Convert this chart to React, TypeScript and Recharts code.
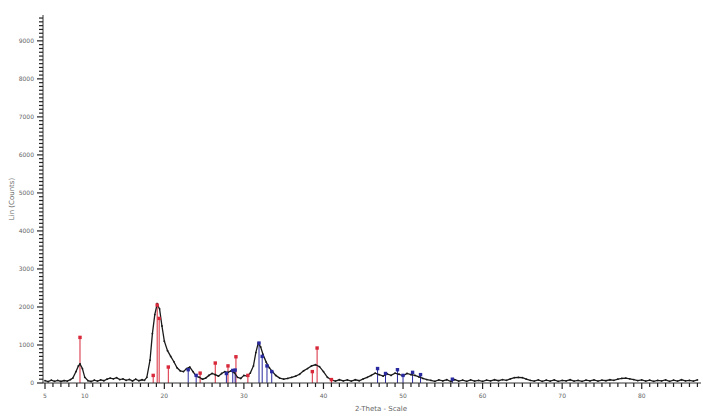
import React from 'react';
import { ComposedChart, Line, Scatter, XAxis, YAxis, ReferenceLine } from 'recharts';

// Measured pattern: [2-theta, counts]
const thetaValues = [5, 5.4, 5.8, 6.2, 6.6, 7, 7.4, 7.8, 8.2, 8.5, 8.9, 9.2, 9.4, 9.7, 10, 10.4, 10.8, 11.2, 11.6, 12, 12.4, 12.8, 13.2, 13.6, 14, 14.4, 14.8, 15.2, 15.6, 16, 16.4, 16.8, 17.2, 17.5, 17.8, 18.2, 18.5, 18.8, 19.1, 19.4, 19.7, 20, 20.4, 20.8, 21.2, 21.6, 22, 22.4, 22.8, 23.2, 23.6, 24, 24.4, 24.8, 25.2, 25.6, 26, 26.4, 26.8, 27.2, 27.6, 28, 28.4, 28.8, 29.2, 29.6, 30, 30.4, 30.8, 31.2, 31.5, 31.8, 32.1, 32.4, 32.8, 33.2, 33.6, 34, 34.5, 35, 35.5, 36, 36.5, 37, 37.5, 38, 38.5, 39, 39.5, 40, 40.5, 41, 41.5, 42, 42.5, 43, 43.5, 44, 44.5, 45, 45.5, 46, 46.5, 47, 47.5, 48, 48.5, 49, 49.5, 50, 50.5, 51, 51.5, 52, 52.5, 53, 53.5, 54, 54.5, 55, 55.5, 56, 56.5, 57, 57.5, 58, 58.5, 59, 59.5, 60, 60.5, 61, 61.5, 62, 62.5, 63, 63.5, 64, 64.5, 65, 65.5, 66, 66.5, 67, 67.5, 68, 68.5, 69, 69.5, 70, 70.5, 71, 71.5, 72, 72.5, 73, 73.5, 74, 74.5, 75, 75.5, 76, 76.5, 77, 77.5, 78, 78.5, 79, 79.5, 80, 80.5, 81, 81.5, 82, 82.5, 83, 83.5, 84, 84.5, 85, 85.5, 86, 86.5, 87];
const countValues = [60, 35, 75, 45, 70, 40, 65, 50, 90, 130, 300, 450, 500, 380, 150, 60, 40, 75, 50, 80, 60, 100, 130, 110, 140, 90, 110, 70, 95, 55, 100, 60, 85, 70, 150, 600, 1300, 1800, 2080, 1950, 1500, 1100, 850, 700, 560, 400, 320, 300, 380, 420, 300, 180, 150, 100, 130, 200, 250, 220, 180, 250, 300, 280, 320, 270, 150, 120, 200, 180, 260, 450, 800, 1050, 950, 750, 550, 400, 300, 200, 130, 100, 120, 150, 180, 230, 320, 380, 450, 480, 430, 300, 150, 80, 50, 85, 55, 80, 50, 85, 60, 110, 150, 200, 260, 220, 180, 240, 200, 260, 230, 190, 250, 220, 200, 160, 120, 90, 70, 45, 80, 55, 85, 40, 90, 50, 75, 45, 80, 50, 70, 45, 75, 55, 85, 60, 90, 70, 110, 140, 150, 140, 100, 70, 50, 80, 45, 75, 50, 80, 45, 70, 55, 85, 50, 70, 45, 75, 55, 80, 50, 75, 60, 85, 70, 100, 120, 130, 110, 90, 65, 80, 50, 75, 45, 70, 55, 80, 45, 75, 50, 85, 55, 70, 50, 80, 55];

// Reference phase 1 (red sticks)
const redTheta = [9.4, 18.6, 19.1, 19.35, 20.5, 24.5, 26.4, 28.0, 29.0, 30.5, 38.6, 39.2, 41.0];
const redHeight = [1200, 200, 2050, 1700, 420, 260, 525, 450, 690, 200, 300, 920, 90];

// Reference phase 2 (blue sticks)
const blueTheta = [23.0, 24.0, 27.8, 28.6, 28.9, 31.9, 32.3, 32.9, 33.5, 46.8, 47.8, 49.3, 50.0, 51.2, 52.2, 56.2];
const blueHeight = [350, 200, 250, 330, 340, 1050, 700, 450, 300, 380, 250, 350, 200, 280, 220, 100];

const xTicks = Array.from({ length: 83 }, (_, i) => 5 + i);
const xLabels = [5, 10, 20, 30, 40, 50, 60, 70, 80];
const yTicks = Array.from({ length: 97 }, (_, i) => i * 100);

const measured = thetaValues.map((x, i) => ({ x, y: countValues[i] }));
const red = redTheta.map((x, i) => ({ x, y: redHeight[i] }));
const blue = blueTheta.map((x, i) => ({ x, y: blueHeight[i] }));

const RED = '#d8283a';
const BLUE = '#2a2aa0';

const XTick = (props: any) => {
  const { x, y, payload } = props;
  const v = payload.value;
  const major = xLabels.includes(v);
  return (
    <g>
      <rect x={x - 0.6} y={y - 3} width={1.2} height={major ? 6 : 4} fill="#222" />
      {major && (
        <text x={x} y={y + 12} textAnchor="middle" fontSize={6} fill="#666" fontFamily="DejaVu Sans">
          {v}
        </text>
      )}
    </g>
  );
};

const YTick = (props: any) => {
  const { x, y, payload } = props;
  const v = payload.value;
  const major = v % 1000 === 0;
  return (
    <g>
      <rect x={major ? x - 3 : x - 1} y={y - 0.6} width={major ? 6 : 4} height={1.2} fill="#222" />
      {major && (
        <text x={x - 6} y={y + 2} textAnchor="end" fontSize={6} fill="#666" fontFamily="DejaVu Sans">
          {v}
        </text>
      )}
    </g>
  );
};

const Square = (color: string) => (props: any) => (
  <rect x={props.cx - 1.7} y={props.cy - 1.7} width={3.4} height={3.4} fill={color} />
);

export default function App() {
  return (
    <div style={{ position: 'absolute', left: 0, top: 0, background: '#fff' }}>
      <ComposedChart width={703} height={416} margin={{ top: 15, right: 2, bottom: 0, left: 0 }}>
        <XAxis
          type="number"
          dataKey="x"
          domain={[4.75, 87.45]}
          ticks={xTicks}
          interval={0}
          tickSize={3}
          tickMargin={0}
          tickLine={false}
          tick={<XTick />}
          height={33}
          stroke="#333"
          allowDataOverflow
          label={{
            content: (p: any) => {
              const vb = p.viewBox;
              return (
                <text x={vb.x + vb.width / 2 + 9} y={vb.y + 28} textAnchor="middle" fontSize={7} fill="#666" fontFamily="DejaVu Sans">
                  2-Theta - Scale
                </text>
              );
            },
          }}
        />
        <YAxis
          type="number"
          dataKey="y"
          domain={[0, 9680]}
          ticks={yTicks}
          interval={0}
          tickSize={3}
          tickMargin={0}
          tickLine={false}
          tick={<YTick />}
          width={43}
          stroke="#333"
          allowDataOverflow
          label={{
            content: (p: any) => {
              const vb = p.viewBox;
              const cx = vb.x + 14;
              const cy = vb.y + vb.height / 2;
              return (
                <text x={cx} y={cy} transform={`rotate(-90 ${cx} ${cy})`} textAnchor="middle" fontSize={7} fill="#666" fontFamily="DejaVu Sans">
                  Lin (Counts)
                </text>
              );
            },
          }}
        />
        {red.map((d, i) => (
          <ReferenceLine key={'r' + i} segment={[{ x: d.x, y: 0 }, { x: d.x, y: d.y }]} stroke={RED} strokeWidth={1} />
        ))}
        {blue.map((d, i) => (
          <ReferenceLine key={'b' + i} segment={[{ x: d.x, y: 0 }, { x: d.x, y: d.y }]} stroke={BLUE} strokeWidth={1} />
        ))}
        <Line
          data={measured}
          dataKey="y"
          type="linear"
          stroke="#1a1a1a"
          strokeWidth={1.3}
          dot={{ r: 0.9, fill: '#1a1a1a', stroke: 'none' }}
          isAnimationActive={false}
        />
        <Scatter data={red} dataKey="y" shape={Square(RED)} isAnimationActive={false} />
        <Scatter data={blue} dataKey="y" shape={Square(BLUE)} isAnimationActive={false} />
      </ComposedChart>
    </div>
  );
}
